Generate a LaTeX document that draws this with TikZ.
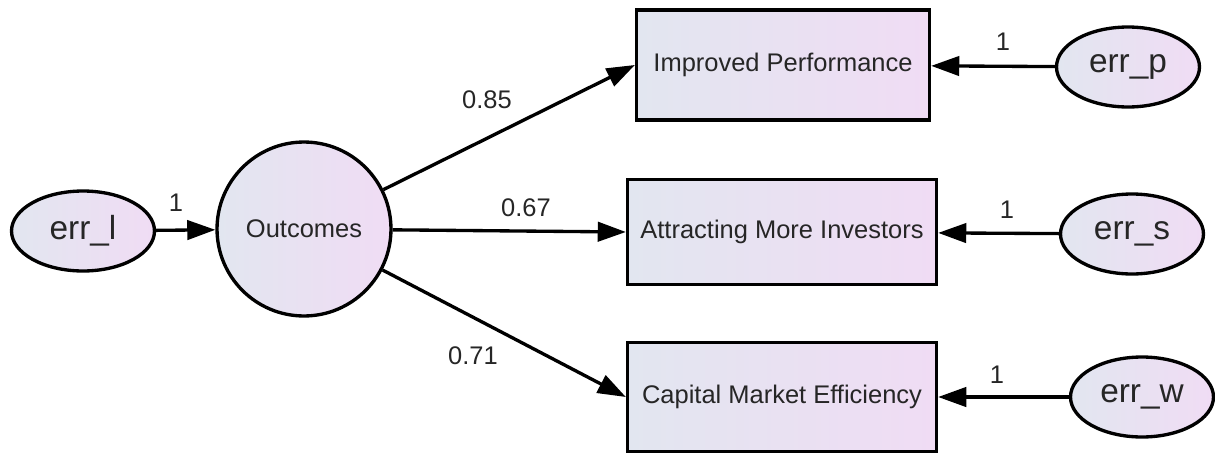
\documentclass[tikz,border=0pt]{standalone}
\usepackage{fontspec}
\setmainfont{Liberation Sans}
\usepackage{tikz}
\usetikzlibrary{arrows.meta,shapes.geometric}

\definecolor{fillL}{HTML}{E2E6F0}
\definecolor{fillR}{HTML}{F0DCF4}
\definecolor{txt}{HTML}{262626}

\begin{document}
\begin{tikzpicture}[x=0.02cm,y=-0.02cm,
        var/.style={draw=black,line width=1.9pt,left color=fillL,right color=fillR,
            inner sep=0pt,text=txt,font=\fontsize{14.5}{17}\selectfont},
        box/.style={var,rectangle},
        err/.style={var,ellipse,minimum width=2.86cm,minimum height=1.6cm,
            font=\fontsize{19}{22}\selectfont},
        path/.style={line width=1.9pt,-{Triangle[length=16pt,width=11pt]}},
        lbl/.style={text=txt,font=\fontsize{14.5}{17}\selectfont}]
    \useasboundingbox (0,0) rectangle (1215,457);

    % latent variable and its error
    \node[var,circle,minimum size=3.48cm] (out) at (304,229) {Outcomes};
    \node[err] (errl) at (83,231) {err\_l};

    % observed indicators
    \node[box,minimum width=5.86cm,minimum height=2.2cm] (imp) at (783,65) {Improved Performance};
    \node[box,minimum width=6.18cm,minimum height=2.1cm] (inv) at (782,232) {Attracting More Investors};
    \node[box,minimum width=6.18cm,minimum height=2.18cm] (cme) at (782,397) {Capital Market Efficiency};

    % error terms of the indicators
    \node[err] (errp) at (1128,67) {err\_p};
    \node[err] (errs) at (1132,234) {err\_s};
    \node[err] (errw) at (1142,397) {err\_w};

    % paths
    \draw[path] (errl) -- (out);
    \draw[path] (out) -- (imp.west);
    \draw[path] (out) -- (inv.west);
    \draw[path] (out) -- (cme.west);
    \draw[path] (errp) -- (imp);
    \draw[path] (errs) -- (inv);
    \draw[path] (errw) -- (cme);

    % loadings
    \node[lbl] (l0) at (176,203) {1};
    \node[lbl] (l1) at (487,100) {0.85};
    \node[lbl] (l2) at (526,208) {0.67};
    \node[lbl] (l3) at (473,356) {0.71};
    \node[lbl] (lp) at (1003,42) {1};
    \node[lbl] (ls) at (1007,210) {1};
    \node[lbl] (lw) at (997,375) {1};
\end{tikzpicture}
\end{document}
